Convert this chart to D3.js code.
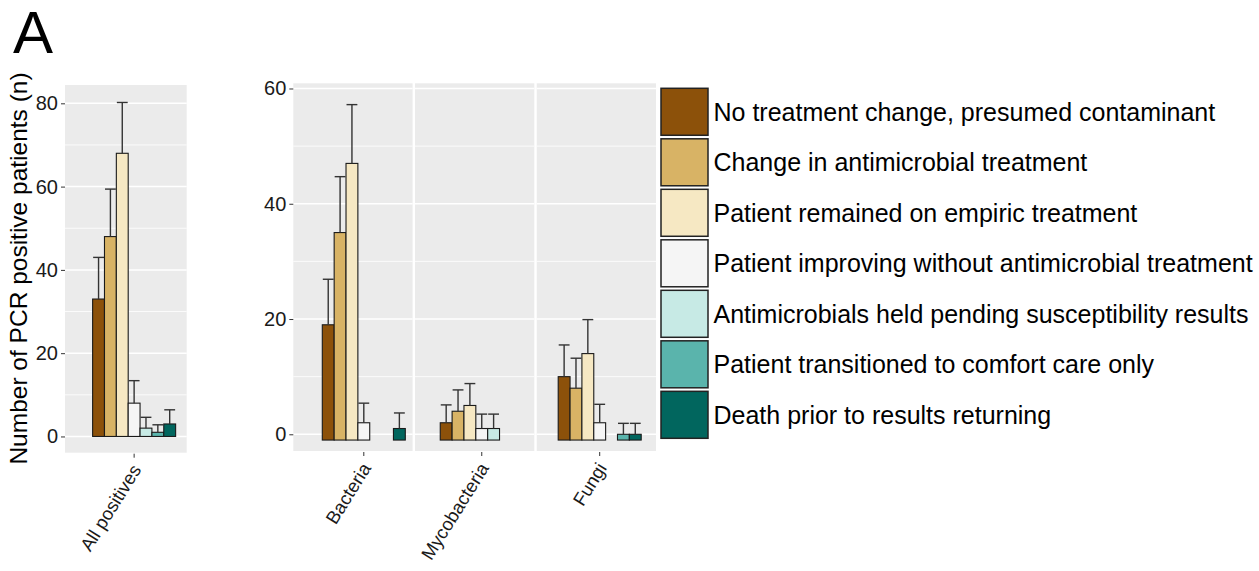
<!DOCTYPE html>
<html>
<head>
<meta charset="utf-8">
<script src="https://cdn.jsdelivr.net/npm/d3@7"></script>
<style>
  html, body { margin: 0; padding: 0; background: #ffffff; }
  svg { display: block; font-family: "Liberation Sans", Arial, Helvetica, sans-serif; }
</style>
</head>
<body>
<svg id="chart" width="1259" height="571"></svg>
<script>
// ---------------- DATA ----------------
const seriesNames = [
  "No treatment change, presumed contaminant",
  "Change in antimicrobial treatment",
  "Patient remained on empiric treatment",
  "Patient improving without antimicrobial treatment",
  "Antimicrobials held pending susceptibility results",
  "Patient transitioned to comfort care only",
  "Death prior to results returning"
];
const seriesColors = ["#8C510A", "#D8B365", "#F6E8C3", "#F5F5F5", "#C7EAE5", "#5AB4AC", "#01665E"];

const leftCategories = ["All positives"];
const rightCategories = ["Bacteria", "Mycobacteria", "Fungi"];

// bar values (null = no bar)
const allPositivesValues = [33, 48, 68, 8, 2, 1, 3];
const allPositivesUpper  = [43, 59.4, 80.2, 13.4, 4.6, 2.8, 6.4];

const bacteriaValues     = [19, 35, 47, 2, null, null, 1];
const bacteriaUpper      = [26.9, 44.7, 57.2, 5.4, null, null, 3.7];

const mycobacteriaValues = [2, 4, 5, 1, 1, null, null];
const mycobacteriaUpper  = [5.1, 7.7, 8.8, 3.5, 3.5, null, null];

const fungiValues        = [10, 8, 14, 2, null, 0, 0];
const fungiUpper         = [15.5, 13.2, 19.9, 5.2, null, 1.9, 1.9];

const leftTicks  = [0, 20, 40, 60, 80];
const leftMinor  = [10, 30, 50, 70];
const rightTicks = [0, 20, 40, 60];
const rightMinor = [10, 30, 50];

const yTitle = "Number of PCR positive patients (n)";
const panelLetter = "A";

// ---------------- BUILD ----------------
function rows(cat, vals, ups) {
  return vals.map((v, i) => ({ cat, series: seriesNames[i], color: seriesColors[i], value: v, upper: ups[i] }))
             .filter(d => d.value !== null);
}
const leftData = rows("All positives", allPositivesValues, allPositivesUpper);
const rightData = [].concat(
  rows("Bacteria", bacteriaValues, bacteriaUpper),
  rows("Mycobacteria", mycobacteriaValues, mycobacteriaUpper),
  rows("Fungi", fungiValues, fungiUpper)
);

const svg = d3.select("#chart");
const BG = "#EBEBEB";
const TXT = "#1a1a1a";

// inner dodge scale (offset relative to category center)
const dodge = d3.scaleBand().domain(seriesNames).range([-41.5, 41.5]).padding(0);

function drawPanel(opts) {
  const { y, panelX, ticks, minor, data, groupX, baseline, catList, facetScale } = opts;
  const g = svg.append("g");
  // panel backgrounds
  if (facetScale) {
    catList.forEach(c => {
      g.append("rect").attr("x", facetScale(c)).attr("width", facetScale.bandwidth())
        .attr("y", y.range()[1]).attr("height", y.range()[0] - y.range()[1]).attr("fill", BG);
    });
  } else {
    g.append("rect").attr("x", panelX[0]).attr("width", panelX[1] - panelX[0])
      .attr("y", y.range()[1]).attr("height", y.range()[0] - y.range()[1]).attr("fill", BG);
  }
  const segs = facetScale ? catList.map(c => [facetScale(c), facetScale(c) + facetScale.bandwidth()]) : [panelX];
  segs.forEach(([a, b]) => {
    minor.forEach(t => g.append("line").attr("x1", a).attr("x2", b).attr("y1", y(t)).attr("y2", y(t))
      .attr("stroke", "#fff").attr("stroke-width", 0.8));
    ticks.forEach(t => g.append("line").attr("x1", a).attr("x2", b).attr("y1", y(t)).attr("y2", y(t))
      .attr("stroke", "#fff").attr("stroke-width", 1.5));
  });
  // y axis
  const yAxis = d3.axisLeft(y).tickValues(ticks).tickSize(4).tickPadding(3).tickFormat(d3.format("d"));
  const ya = g.append("g").attr("transform", `translate(${panelX[0]},0)`).call(yAxis);
  ya.select(".domain").remove();
  ya.selectAll(".tick line").attr("stroke", "#333").attr("stroke-width", 1);
  ya.selectAll(".tick text").attr("font-size", 20).attr("fill", TXT).attr("font-family", "Liberation Sans, Arial, sans-serif");

  // bars
  const bw = dodge.bandwidth();
  g.selectAll("rect.bar").data(data).enter().append("rect").attr("class", "bar")
    .attr("x", d => groupX(d.cat) + dodge(d.series))
    .attr("width", bw)
    .attr("y", d => y(d.value))
    .attr("height", d => y(baseline) - y(d.value))
    .attr("fill", d => d.color)
    .attr("stroke", "#1a1a1a").attr("stroke-width", 1.1);
  // error bars (upper)
  const eb = g.selectAll("g.eb").data(data.filter(d => d.upper !== null)).enter().append("g");
  eb.append("line")
    .attr("x1", d => groupX(d.cat) + dodge(d.series) + bw / 2)
    .attr("x2", d => groupX(d.cat) + dodge(d.series) + bw / 2)
    .attr("y1", d => y(d.value)).attr("y2", d => y(d.upper))
    .attr("stroke", "#333").attr("stroke-width", 1.4);
  eb.append("line")
    .attr("x1", d => groupX(d.cat) + dodge(d.series) + 0.5)
    .attr("x2", d => groupX(d.cat) + dodge(d.series) + bw - 0.5)
    .attr("y1", d => y(d.upper)).attr("y2", d => y(d.upper))
    .attr("stroke", "#333").attr("stroke-width", 1.4);

  // x ticks + labels
  const yb = y.range()[0];
  catList.forEach(c => {
    const cx = groupX(c);
    g.append("line").attr("x1", cx).attr("x2", cx).attr("y1", yb + 1).attr("y2", yb + 5)
      .attr("stroke", "#333").attr("stroke-width", 1);
    g.append("text").attr("transform", `translate(${cx - 3.5},${yb + 10}) rotate(-58)`)
      .attr("text-anchor", "end").attr("dy", "0.72em")
      .attr("font-size", 18.5).attr("fill", TXT).text(c);
  });
}

// Left panel
const yLeft = d3.scaleLinear().domain([-3.9, 84.4]).range([452.7, 85]);
const leftX = d3.scalePoint().domain(leftCategories).range([65, 186.7]).align(0.568);
drawPanel({ y: yLeft, panelX: [65, 186.7], ticks: leftTicks, minor: leftMinor, data: leftData,
  groupX: leftX, baseline: 0, catList: leftCategories });

// Right faceted panel
const yRight = d3.scaleLinear().domain([-2.9, 60.9]).range([451, 83.3]);
const facet = d3.scaleBand().domain(rightCategories).range([293.3, 656]).paddingInner(0.02);
const rightX = d3.scalePoint().domain(rightCategories).range([363.8, 599.7]);
drawPanel({ y: yRight, panelX: [293.3, 656], ticks: rightTicks, minor: rightMinor, data: rightData,
  groupX: rightX, baseline: -1, catList: rightCategories, facetScale: facet });

// Y axis title
svg.append("text").attr("transform", "translate(27,268.5) rotate(-90)")
  .attr("text-anchor", "middle").attr("font-size", 24.5).attr("fill", "#000").text(yTitle);

// Panel letter
svg.append("text").attr("x", 13).attr("y", 53).attr("font-size", 60).attr("fill", "#000").text(panelLetter);

// Legend
const legY = d3.scaleBand().domain(seriesNames).range([88.3, 438.3]).paddingInner(0.07).paddingOuter(0);
const leg = svg.append("g");
seriesNames.forEach((s, i) => {
  leg.append("rect").attr("x", 661).attr("y", legY(s)).attr("width", 47).attr("height", legY.bandwidth())
    .attr("fill", seriesColors[i]).attr("stroke", "#222").attr("stroke-width", 1.5);
  leg.append("text").attr("x", 713.5).attr("y", legY(s) + legY.bandwidth() / 2)
    .attr("dy", "0.35em").attr("font-size", 25).attr("fill", "#000").text(s);
});
</script>
</body>
</html>
